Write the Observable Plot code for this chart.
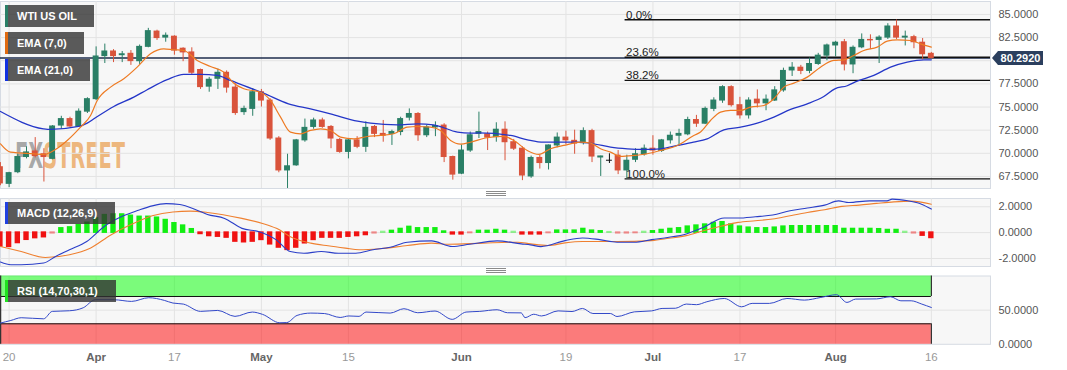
<!DOCTYPE html>
<html><head><meta charset="utf-8">
<script src="https://cdn.jsdelivr.net/npm/d3@7"></script>
<script src="https://cdn.jsdelivr.net/npm/@observablehq/plot@0.6"></script>
<style>
body{margin:0;background:#fff;font-family:"Liberation Sans",Arial,sans-serif;}
#wrap{position:relative;width:1067px;height:370px;overflow:hidden;background:#fff;}
.panel{position:absolute;left:0;}
.legend{position:absolute;left:5px;height:22px;background:rgba(50,50,50,0.8);color:#fff;font-weight:bold;font-size:11px;line-height:22px;padding-left:9px;box-sizing:border-box;border-left:3px solid;white-space:nowrap;}
.grip{position:absolute;left:486px;width:20px;height:5px;border-top:1px solid #8a8a8a;border-bottom:1px solid #8a8a8a;box-sizing:border-box;}
.grip::after{content:"";position:absolute;left:0;right:0;top:1px;height:1px;background:#8a8a8a;}
.tag{position:absolute;left:998px;width:45px;height:14px;background:#2b3f5e;color:#fff;font-weight:bold;font-size:11px;line-height:14px;text-align:center;}
.tag::before{content:"";position:absolute;left:-6px;top:0;border-top:7px solid transparent;border-bottom:7px solid transparent;border-right:6px solid #2b3f5e;}
</style></head>
<body><div id="wrap"></div>
<script>
// ---- data (index 0 = Mar 20 2023, -1 = Mar 17; one bar per trading day, Apr 7 absent) ----
const firstIndex = -1;
const opens = [
 68.5,66.7,67.96,69.6,70.2,69.9,69.4,73.0,73.7,72.9,
 74.5,75.85,80.5,81.0,80.6,80.75,79.95,81.5,83.15,82.5,
 82.6,81.3,80.9,79.0,77.2,78.05,78.7,77.1,74.45,74.8,
 76.6,75.7,71.6,68.15,68.7,71.4,72.85,73.55,72.85,71.45,
 70.15,71.4,70.7,72.85,72.1,72.1,72.3,73.85,74.25,71.95,
 72.8,73.0,69.6,67.8,70.3,72.1,72.05,71.75,72.55,71.2,
 70.5,67.5,69.5,68.95,70.85,71.7,71.35,71.1,72.4,69.55,
 69.2,69.75,68.15,69.3,69.9,70.5,70.25,71.4,71.9,72.05,
 73.6,73.2,74.8,75.7,77.15,75.2,74.1,75.8,75.4,75.7,
 76.8,78.95,79.25,78.9,79.65,80.55,81.65,82.0,79.6,81.45,
 82.25,82.25,82.5,83.7,82.5,82.55,81.95,80.75];
const highs = [
 69.0,67.95,69.95,70.7,71.7,70.5,73.0,74.0,73.9,74.8,
 76.0,81.5,81.8,81.2,81.0,81.1,81.7,83.5,83.3,83.0,
 82.7,81.4,81.4,79.1,78.2,79.1,78.9,77.5,75.1,77.0,
 76.9,75.9,71.8,69.9,71.5,73.7,73.8,73.8,73.0,71.6,
 71.5,71.8,73.4,73.0,73.55,72.5,73.9,74.8,74.4,73.0,
 73.4,73.2,69.7,70.9,72.3,74.45,72.3,73.3,73.4,71.5,
 70.7,69.7,69.8,70.9,72.2,72.4,72.5,72.75,72.6,69.7,
 69.95,70.3,69.8,70.5,70.9,71.9,71.5,72.3,72.6,73.9,
 74.1,75.0,76.0,77.3,77.3,76.05,76.0,76.85,76.3,77.2,
 79.2,79.8,79.5,80.3,80.8,81.8,82.1,82.3,81.6,82.9,
 82.8,82.7,84.0,84.4,83.2,82.75,82.4,80.9];
const lows = [
 66.5,66.3,67.8,69.4,69.5,66.9,69.3,72.6,72.8,72.8,
 74.3,75.7,79.7,79.8,79.8,79.5,79.6,81.4,82.2,82.0,
 80.6,79.9,78.5,76.9,76.6,76.9,76.5,74.1,74.1,74.0,
 75.0,71.4,67.9,65.0,68.6,71.2,72.6,72.7,70.5,70.0,
 69.4,70.5,70.1,71.7,71.2,70.85,71.9,73.5,71.3,71.7,
 71.8,69.0,67.1,67.7,70.1,71.6,70.3,71.2,69.2,70.3,
 67.05,67.3,68.3,68.2,70.6,70.9,69.9,70.9,69.0,67.5,
 68.9,67.7,67.25,69.0,69.7,69.8,70.1,71.0,70.8,71.9,
 72.8,73.1,74.5,75.4,75.0,73.7,73.7,74.9,74.6,75.6,
 76.6,78.3,78.5,78.6,79.5,80.0,80.4,78.9,78.6,81.3,
 81.2,79.7,82.3,82.3,81.6,81.3,80.1,80.2];
const closes = [
 66.75,67.86,69.6,70.1,69.7,69.6,72.9,73.7,72.9,74.5,
 75.85,80.46,81.0,80.5,80.7,79.96,81.5,83.2,82.45,82.7,
 81.1,80.9,78.7,77.15,77.95,78.7,77.1,74.35,74.8,76.6,
 75.7,71.6,68.15,68.6,71.4,72.75,73.55,72.85,71.6,70.15,
 71.4,70.7,72.75,72.1,71.9,72.3,73.7,74.25,71.95,72.8,
 72.95,69.6,67.7,70.3,71.95,72.3,71.7,72.55,71.2,70.5,
 67.6,69.5,68.95,70.85,71.7,71.4,71.05,72.4,69.65,69.66,
 69.2,68.15,69.2,69.9,70.5,70.3,71.4,71.9,72.1,73.6,
 73.2,74.8,75.7,77.15,75.2,74.1,75.7,75.4,75.8,76.8,
 78.9,79.25,78.9,79.65,80.55,81.65,81.95,79.6,81.4,82.25,
 82.2,82.5,83.7,82.5,82.6,82.0,80.7,80.29];
const lastPrice = 80.292;

const ema7Idx = [-0.99,0.16,2.84,3.99,5.14,6.68,8.21,9.36,10.13,11.66,13.18,14.72,16.25,17.78,18.93,20.08,21.62,23.15,24.68,25.8,26.98,28.9,30.05,31.2,32.34,33.49,34.64,35.79,36.94,38.09,39.62,41.16,42.69,44.22,45.76,46.91,48.44,49.59,50.74,51.89,53.03,54.95,56.86,58.01,59.55,60.89,62.23,63.76,65.68,66.83,67.98,69.13,70.28,71.84,73.34,74.87,76.79,78.7,79.47,80.62,81.77,82.92,84.07,85.22,86.75,87.9,89.05,90.2,91.74,93.26,94.79,95.94,97.09,98.24,99.78,100.93,102.08,103.61,104.76,106];
const ema7Val = [71.03,70.13,69.95,69.88,70.31,71.39,72.83,74.09,75.71,77.15,78.05,79.31,80.75,81.29,81.19,81.11,80.03,79.38,78.77,77.6,76.97,76.6,75.71,73.91,72.29,72.11,72.47,72.65,72.47,71.75,71.57,71.82,71.93,72.11,72.83,72.9,72.83,72.47,71.39,71.0,71.2,71.68,71.82,71.39,70.31,69.88,70.49,70.85,71.2,71.1,70.49,70.13,69.66,69.77,69.95,70.31,70.85,71.93,72.3,73.55,74.45,74.63,74.63,74.99,75.17,75.89,77.15,77.58,78.23,79.31,80.03,80.1,80.57,81.11,81.47,82.12,82.26,82.19,81.83,81.47];
const ema21Idx = [-0.99,3.95,4.76,7.98,8.98,9.93,12.03,14.33,15.87,18.17,20.08,22.0,23.92,25.45,29.24,32.11,34.64,36.94,40.05,41.54,44.64,46.94,48.78,51.54,53.03,53.95,57.63,59.59,61.43,63.4,65.33,67.17,69.13,71.08,72.92,74.87,76.83,78.67,80.24,82.15,84.07,85.99,87.9,89.82,91.74,93.64,94.91,96.33,97.48,99.39,101.31,103.23,105.14,106];
const ema21Val = [74.52,72.65,72.58,72.9,73.26,73.84,75.06,76.07,76.87,77.95,78.52,78.52,78.41,77.87,76.5,75.35,74.81,74.27,73.47,73.26,73.08,73.19,73.08,72.29,72.18,72.2,71.93,71.46,71.2,71.2,71.2,71.03,70.67,70.49,70.42,70.49,70.85,71.2,71.57,72.54,72.83,73.26,73.91,74.74,75.35,76.14,76.97,77.3,77.8,78.41,79.31,79.85,80.1,80.1];

const fibLabels = ["0.0%","23.6%","38.2%","100.0%"];
const fibValues = [84.43,80.38,77.87,67.25];
const fibStartIdx = 70.8;

const macdHist = [
 -1.07,-1.1,-0.8,-0.55,-0.42,-0.35,-0.05,0.33,0.4,0.58,
 0.76,1.1,1.35,1.4,1.4,1.3,1.22,1.22,1.15,0.97,
 0.72,0.54,0.26,-0.1,-0.26,-0.31,-0.38,-0.69,-0.74,-0.69,
 -0.56,-0.9,-1.15,-1.33,-1.15,-0.82,-0.56,-0.38,-0.38,-0.38,
 -0.31,-0.26,-0.18,-0.05,0.05,0.13,0.28,0.44,0.33,0.33,
 0.33,0.08,-0.13,-0.13,-0.03,0.13,0.13,0.2,0.13,0.05,
 -0.13,-0.13,-0.13,-0.03,0.15,0.15,0.15,0.28,0.15,0.1,
 0.03,-0.05,-0.05,-0.03,0.05,0.1,0.2,0.28,0.33,0.46,
 0.54,0.62,0.74,0.8,0.62,0.46,0.38,0.33,0.33,0.38,
 0.46,0.49,0.49,0.49,0.49,0.49,0.49,0.28,0.28,0.28,
 0.28,0.26,0.2,0.2,0.05,-0.05,-0.23,-0.41];
const macdIdx = [-0.99,0.2,1.39,3.97,5.35,6.94,8.92,10.9,12.88,14.86,16.45,18.04,19.62,21.6,22.8,24.77,26.76,28.74,30.72,32.31,33.89,35.87,37.85,39.84,41.82,43.8,45.78,48.55,50.93,52.92,56.09,58.86,59.93,61.13,63.9,65.9,67.88,69.87,71.86,73.85,75.84,77.83,79.82,82.2,83.79,85.78,87.77,89.76,91.75,93.74,95.33,96.52,98.91,100.9,101.5,103.29,104.87,106];
const macdVal = [-2.27,-2.48,-2.48,-2.35,-1.84,-1.33,-0.69,0.46,1.22,1.73,2.07,2.24,2.17,1.73,1.41,1.1,0.33,0.07,-0.56,-1.46,-1.59,-1.46,-1.59,-1.59,-1.33,-1.13,-0.74,-0.64,-1.07,-0.9,-0.64,-0.87,-0.95,-1.08,-0.62,-0.41,-0.54,-0.74,-0.74,-0.54,-0.36,-0.1,0.41,1.13,1.13,1.23,1.36,1.69,1.9,2.13,2.46,2.33,2.46,2.46,2.59,2.46,2.2,1.82];
const signalIdx = [-0.99,1.39,4.16,6.94,9.32,11.69,14.07,16.45,18.83,20.81,22.8,26.76,29.13,30.72,32.7,34.68,36.66,38.65,40.23,42.61,45.78,48.55,50.54,54.5,58.46,59.93,61.92,63.9,65.9,69.87,73.85,75.84,77.83,79.82,81.8,83.79,85.78,87.77,89.76,91.75,93.74,95.72,97.71,99.7,101.69,103.68,106];
const signalVal = [-1.07,-1.46,-1.92,-1.71,-1.2,-0.18,0.64,1.3,1.6,1.66,1.56,1.1,0.71,0.33,-0.44,-0.81,-1.02,-1.2,-1.33,-1.25,-1.0,-0.81,-0.9,-0.81,-0.74,-0.87,-1.0,-0.79,-0.69,-0.69,-0.62,-0.44,-0.23,0.15,0.49,0.79,0.92,1.05,1.31,1.56,1.77,2.03,2.13,2.26,2.38,2.44,2.2];

const rsiIdx = [-0.99,0.2,1.39,3.97,4.96,6.94,8.52,9.91,12.09,14.07,16.05,17.84,18.83,20.02,22.0,23.98,25.96,27.95,29.13,31.12,31.91,33.1,34.68,36.27,38.05,39.04,40.23,41.02,43.8,45.38,46.97,48.95,50.93,52.52,54.1,56.09,57.28,58.86,59.3,60.3,61.2,63.1,64.7,65.9,67.1,69.1,69.87,71.86,73.85,75.05,76.6,77.83,79.0,80.2,82.2,84.2,85.4,87.4,89.4,91.4,93.3,95.1,96.3,97.3,99.7,101.3,102.5,103.68,104.9,106];
const rsiVal = [31.1,34.9,38.9,37.3,48.2,49.1,53.5,65.2,65.2,62.8,68.2,64.3,60.4,58.9,48.2,49.6,40.9,47.2,43.8,31.5,31.8,42.3,45.7,45.0,39.3,41.5,40.9,47.2,45.7,52.1,46.2,48.7,36.5,47.2,48.2,50.6,46.2,46.0,39.0,44.0,41.5,48.9,48.0,52.5,45.1,45.1,40.7,47.5,48.9,52.5,52.8,58.9,58.0,62.3,67.1,54.9,59.9,59.9,67.1,64.7,68.6,72.6,61.3,66.2,66.5,69.6,63.7,63.7,58.9,53.9];
const rsiUpper = 70, rsiLower = 30;

const xTickIdx = [0,10,19,29,39,52,64,74,84,95,106];
const xTickLabels = ["20","Apr","17","May","15","Jun","19","Jul","17","Aug","16"];
const priceTicks = [67.5,70,72.5,75,77.5,82.5,85];
const priceGrid = [67.5,70,72.5,75,77.5,80,82.5,85];
const macdTicks = [-2,0,2];
const rsiTicks = [0,50];

// ---- styling ----
const GREEN = "#2a7f66", RED = "#d9533b";
const EMA7C = "#ee7a22", EMA21C = "#2436c8";
const GRID = "#e3e3e3", BG = "#f7f7f7", BORDER = "#d6dbe3";
const FONT = "Liberation Sans, Arial, sans-serif";
const W = 1067;
const XMIN = -0.99, XMAX = 112.8;

const candles = opens.map((o, k) => ({i: k + firstIndex, o, h: highs[k], l: lows[k], c: closes[k]}));
const candleColor = d => d.c > d.o ? GREEN : d.c < d.o ? RED : "#111";
const hist = macdHist.map((h, k) => ({i: k + firstIndex, h}));
const tickLabel = new Map(xTickIdx.map((d, k) => [d, xTickLabels[k]]));
const monthTicks = xTickIdx.filter(d => /[A-Za-z]/.test(tickLabel.get(d)));
const dayTicks = xTickIdx.filter(d => !/[A-Za-z]/.test(tickLabel.get(d)));

const wrap = document.getElementById("wrap");
function place(el, top) { el.classList.add("panel"); el.style.top = top + "px"; wrap.appendChild(el); return el; }

const main = Plot.plot({
  width: W, height: 190, marginTop: 1, marginBottom: 2, marginLeft: 0, marginRight: 77,
  style: {background: "transparent", color: "#555", fontFamily: FONT, fontSize: "11px"},
  x: {domain: [XMIN, XMAX], axis: null},
  y: {domain: [66.2, 86.4], axis: null},
  color: {type: "identity"},
  marks: [
    Plot.frame({fill: BG, stroke: BORDER}),
    Plot.gridX(xTickIdx, {stroke: GRID, strokeOpacity: 1}),
    Plot.gridY(priceGrid, {stroke: GRID, strokeOpacity: 1}),
    Plot.axisY(priceTicks, {anchor: "right", tickSize: 0, tickPadding: 8, tickFormat: d => d.toFixed(4), fill: "#555", fontSize: 11, label: null}),
    Plot.ruleY([lastPrice], {stroke: "#1e2c4c", strokeWidth: 1.5}),
    Plot.ruleY(fibValues, {x1: () => fibStartIdx, x2: () => XMAX, stroke: "#111", strokeWidth: 1.3}),
    Plot.text(fibValues, {x: () => fibStartIdx, y: d => d, text: (d, k) => fibLabels[k], textAnchor: "start", lineAnchor: "bottom", dy: -1, dx: 1, fill: "#222", fontSize: 11.5}),
    Plot.ruleX(candles, {x: "i", y1: "l", y2: "h", stroke: candleColor, strokeWidth: 1, clip: true}),
    Plot.rect(candles, {x1: d => d.i - 0.34, x2: d => d.i + 0.34, y1: "o", y2: "c", fill: candleColor, insetTop: -0.5, insetBottom: -0.5, clip: true}),
    Plot.line(ema21Val, {x: (d, k) => ema21Idx[k], y: d => d, stroke: EMA21C, strokeWidth: 1.3, curve: "monotone-x", clip: true}),
    Plot.line(ema7Val, {x: (d, k) => ema7Idx[k], y: d => d, stroke: EMA7C, strokeWidth: 1.2, curve: "monotone-x", clip: true})
  ]
});
place(main, 0);

// watermark behind candles
(function () {
  const frame = main.querySelector('[aria-label="frame"]');
  const g = d3.create("svg:g").attr("transform", "translate(15,168)");
  const t = g.append("text").attr("x", 0).attr("y", 0).attr("text-anchor", "start")
    .attr("font-family", "DejaVu Sans").attr("font-weight", "bold").attr("font-size", 36);
  t.append("tspan").attr("fill", "#8e8e8e").attr("fill-opacity", 0.75).text("FX");
  t.append("tspan").attr("fill", "#e99a48").attr("fill-opacity", 0.7).text("STREET");
  if (frame) frame.after(g.node()); else main.appendChild(g.node());
  const len = t.node().getComputedTextLength() || 200;
  g.attr("transform", `translate(15,168) scale(${110 / len},1)`);
})();

const macdChart = Plot.plot({
  width: W, height: 73, marginTop: 4, marginBottom: 1, marginLeft: 0, marginRight: 77,
  style: {background: "transparent", color: "#555", fontFamily: FONT, fontSize: "11px"},
  x: {domain: [XMIN, XMAX], axis: null},
  y: {domain: [-2.62, 2.64], axis: null},
  color: {type: "identity"},
  marks: [
    Plot.frame({fill: BG, stroke: BORDER}),
    Plot.gridX(xTickIdx, {stroke: GRID, strokeOpacity: 1}),
    Plot.gridY(macdTicks, {stroke: GRID, strokeOpacity: 1}),
    Plot.axisY(macdTicks, {anchor: "right", tickSize: 0, tickPadding: 8, tickFormat: d => d.toFixed(4), fill: "#555", fontSize: 11, label: null}),
    Plot.rect(hist, {x1: d => d.i - 0.31, x2: d => d.i + 0.31, y1: () => 0, y2: "h", fill: d => d.h >= 0 ? "#12ee12" : "#f01212",
      fillOpacity: d => Math.abs(d.h) < 0.06 ? 0.45 : 1, insetTop: -0.8, insetBottom: -0.8, clip: true}),
    Plot.line(signalVal, {x: (d, k) => signalIdx[k], y: d => d, stroke: "#ef8030", strokeWidth: 1.1, curve: "monotone-x", clip: true}),
    Plot.line(macdVal, {x: (d, k) => macdIdx[k], y: d => d, stroke: "#2a3ec8", strokeWidth: 1.1, curve: "monotone-x", clip: true})
  ]
});
place(macdChart, 194);

const bandEnd = 106;
const rsiChart = Plot.plot({
  width: W, height: 98, marginTop: 3.5, marginBottom: 26.2, marginLeft: 0, marginRight: 77,
  style: {background: "transparent", color: "#555", fontFamily: FONT, fontSize: "11px"},
  x: {domain: [XMIN, XMAX], axis: null},
  y: {domain: [0, 100], axis: null},
  marks: [
    Plot.frame({fill: BG, stroke: BORDER}),
    Plot.gridX(xTickIdx, {stroke: GRID, strokeOpacity: 1}),
    Plot.gridY([50], {stroke: GRID, strokeOpacity: 1}),
    Plot.rect([rsiUpper], {x1: () => XMIN, x2: () => bandEnd, y1: d => d, y2: () => 100, fill: "#00ff00", fillOpacity: 0.5}),
    Plot.rect([rsiLower], {x1: () => XMIN, x2: () => bandEnd, y1: () => 0, y2: d => d, fill: "#ff0000", fillOpacity: 0.5}),
    Plot.ruleY([rsiUpper, rsiLower], {x1: () => XMIN, x2: () => bandEnd, stroke: "#111", strokeWidth: 1}),
    Plot.ruleX([bandEnd], {y1: () => rsiUpper, y2: () => 100, stroke: "#111"}),
    Plot.ruleX([bandEnd], {y1: () => 0, y2: () => rsiLower, stroke: "#111"}),
    Plot.ruleX([XMIN], {y1: () => 0, y2: () => 100, stroke: "#333", strokeWidth: 1.5}),
    Plot.line(rsiVal, {x: (d, k) => rsiIdx[k], y: d => d, stroke: "#3248c8", strokeWidth: 1, curve: "monotone-x", clip: true}),
    Plot.axisY(rsiTicks, {anchor: "right", tickSize: 0, tickPadding: 8, tickFormat: d => d.toFixed(4), fill: "#555", fontSize: 11, label: null}),
    Plot.axisX(dayTicks, {anchor: "bottom", tickSize: 0, tickPadding: 9, tickFormat: d => tickLabel.get(d), fill: "#999", fontSize: 11.5, label: null}),
    Plot.axisX(monthTicks, {anchor: "bottom", tickSize: 0, tickPadding: 9, tickFormat: d => tickLabel.get(d), fill: "#666", fontWeight: "bold", fontSize: 11.5, label: null})
  ]
});
place(rsiChart, 272);

// overlays: legend boxes, grips, price tag
function legend(text, color, top, width) {
  const d = document.createElement("div");
  d.className = "legend"; d.textContent = text;
  d.style.top = top + "px"; d.style.width = width + "px"; d.style.borderLeftColor = color;
  wrap.appendChild(d);
}
legend("WTI US OIL", GREEN, 5, 89);
legend("EMA (7,0)", "#e06a10", 32, 79);
legend("EMA (21,0)", "#1030e0", 59, 85);
legend("MACD (12,26,9)", "#2040e0", 202, 110);
legend("RSI (14,70,30,1)", "#20e020", 280, 111);

for (const top of [190.5, 268]) {
  const g = document.createElement("div"); g.className = "grip"; g.style.top = top + "px"; wrap.appendChild(g);
}

const tag = document.createElement("div");
tag.className = "tag"; tag.textContent = lastPrice.toFixed(4);
tag.style.top = (main.scale("y").apply(lastPrice) - 7) + "px";
wrap.appendChild(tag);
</script></body></html>
